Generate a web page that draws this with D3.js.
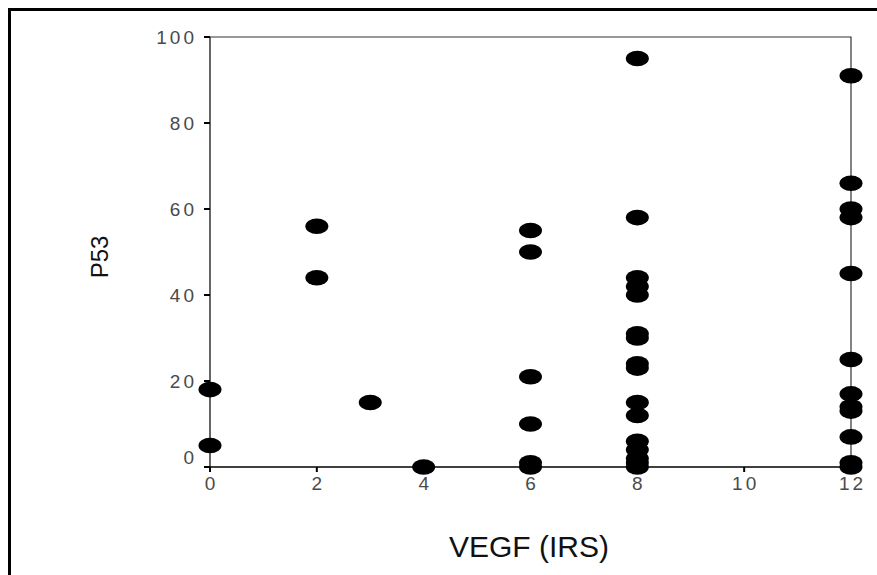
<!DOCTYPE html>
<html lang="en">
<head>
    <meta charset="UTF-8">
    <title>P53 vs VEGF</title>
    <script src="https://d3js.org/d3.v7.min.js"></script>
</head>
<style>
    body { margin: 0; background: #fff; }
    .tick-label { font-family: "Liberation Sans", Arial, sans-serif; font-size: 19px; fill: #4a4a4a; letter-spacing: 3px; }
    .axis-title { font-family: "Liberation Sans", Arial, sans-serif; fill: #111; }
</style>
<body>
    <svg class="chart"></svg>
</body>
<script>
    const svgW = 877
    const svgH = 575

    // data
    const vegf = [0, 0, 2, 2, 3, 4,
        6, 6, 6, 6, 6, 6,
        8, 8, 8, 8, 8, 8, 8, 8, 8, 8, 8, 8, 8, 8, 8, 8,
        12, 12, 12, 12, 12, 12, 12, 12, 12, 12, 12, 12]
    const p53 = [18, 5, 56, 44, 15, 0,
        55, 50, 21, 10, 1, 0,
        95, 58, 44, 42, 40, 31, 30, 24, 23, 15, 12, 6, 4, 2, 1, 0,
        91, 66, 60, 58, 45, 25, 17, 14, 13, 7, 1, 0]
    const xTicks = [0, 2, 4, 6, 8, 10, 12]
    const yTicks = [0, 20, 40, 60, 80, 100]

    const svg = d3.select(".chart")
        .attr("width", svgW).attr("height", svgH)
        .attr("viewBox", `0 0 ${svgW} ${svgH}`)

    const x = d3.scaleLinear().domain([0, 12]).range([210, 851])
    const y = d3.scaleLinear().domain([0, 100]).range([467, 37])

    // outer frame (only left and top visible)
    svg.append("path")
        .attr("d", `M9.5,${svgH} L9.5,9.5 L${svgW},9.5`)
        .attr("fill", "none").attr("stroke", "#000").attr("stroke-width", 3)

    // plot box
    svg.append("path")
        .attr("d", `M${x(0)},${y(100)} L${x(12)},${y(100)} L${x(12)},${y(0)}`)
        .attr("fill", "none").attr("stroke", "#333").attr("stroke-width", 1.2)

    // y axis
    const yAxis = svg.append("g")
    yAxis.append("line")
        .attr("x1", x(0)).attr("x2", x(0)).attr("y1", y(0)).attr("y2", y(100))
        .attr("stroke", "#333").attr("stroke-width", 1.5)
    yAxis.selectAll(".yt").data(yTicks).join("line")
        .attr("x1", x(0) - 6).attr("x2", x(0)).attr("y1", d => y(d)).attr("y2", d => y(d))
        .attr("stroke", "#000").attr("stroke-width", 2)
    yAxis.selectAll(".yl").data(yTicks).join("text")
        .attr("class", "tick-label")
        .attr("x", x(0) - 13)
        .attr("y", d => d === 0 ? y(d) - 10 : y(d))
        .attr("dy", "0.35em")
        .attr("text-anchor", "end")
        .text(d => d)

    // x axis
    const xAxis = svg.append("g")
    xAxis.append("line")
        .attr("x1", x(0) - 6).attr("x2", x(12)).attr("y1", y(0)).attr("y2", y(0))
        .attr("stroke", "#000").attr("stroke-width", 1.5)
    xAxis.selectAll(".xt").data(xTicks).join("line")
        .attr("x1", d => x(d)).attr("x2", d => x(d)).attr("y1", y(0)).attr("y2", y(0) + 5)
        .attr("stroke", "#000").attr("stroke-width", 2)
    xAxis.selectAll(".xl").data(xTicks).join("text")
        .attr("class", "tick-label")
        .attr("x", d => x(d) + 1.5)
        .attr("y", y(0) + 23)
        .attr("text-anchor", "middle")
        .text(d => d)

    // points
    svg.append("g").selectAll("ellipse")
        .data(vegf.map((v, i) => [v, p53[i]]))
        .join("ellipse")
        .attr("cx", d => x(d[0]))
        .attr("cy", d => y(d[1]))
        .attr("rx", 11.5).attr("ry", 7.8)
        .attr("fill", "#000")

    // titles
    svg.append("text")
        .attr("class", "axis-title")
        .attr("x", 529).attr("y", 557)
        .attr("text-anchor", "middle")
        .style("font-size", "30px")
        .text("VEGF (IRS)")
    svg.append("text")
        .attr("class", "axis-title")
        .attr("transform", "translate(108,257) rotate(-90)")
        .attr("text-anchor", "middle")
        .style("font-size", "24px")
        .text("P53")
</script>
</html>
